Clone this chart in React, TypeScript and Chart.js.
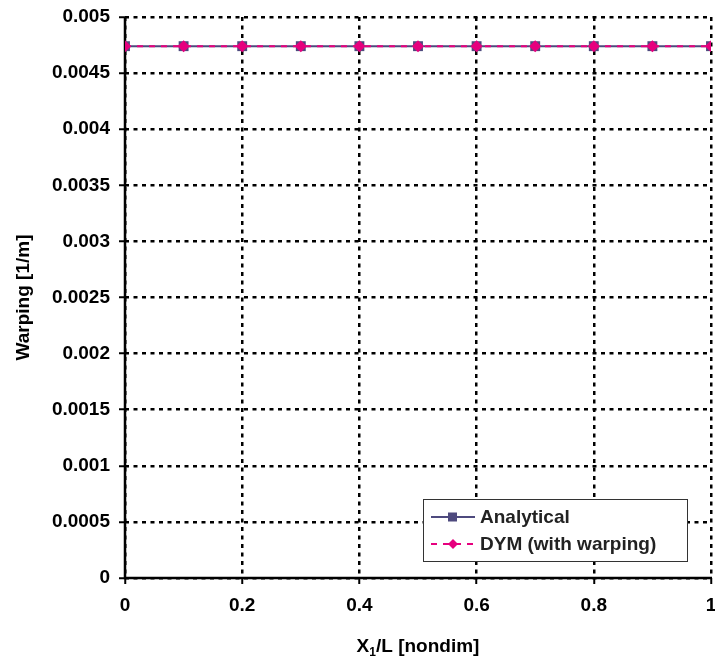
import React, { useEffect, useRef } from "react";
import { Chart, registerables } from "chart.js";

Chart.register(...registerables);

const xValues = [0, 0.1, 0.2, 0.3, 0.4, 0.5, 0.6, 0.7, 0.8, 0.9, 1];
const analytical = [0.00474, 0.00474, 0.00474, 0.00474, 0.00474, 0.00474, 0.00474, 0.00474, 0.00474, 0.00474, 0.00474];
const dym = [0.00474, 0.00474, 0.00474, 0.00474, 0.00474, 0.00474, 0.00474, 0.00474, 0.00474, 0.00474, 0.00474];
const seriesNames = ["Analytical", "DYM (with warping)"];
const yTitle = "Warping [1/m]";
const xTitleMain = "X";
const xTitleSub = "1";
const xTitleRest = "/L [nondim]";

const FONT = "'Liberation Sans', Arial, sans-serif";
const NAVY = "#4e4a7e";
const MAGENTA = "#e6007e";

export default function App() {
  const ref = useRef<HTMLCanvasElement>(null);
  useEffect(() => {
    document.body.style.margin = "0";
    const ctx = ref.current!;
    const axisLines = {
      id: "axisLines",
      beforeDatasetsDraw(chart: any) {
        const c = chart.ctx;
        const a = chart.chartArea;
        c.save();
        c.strokeStyle = "#000";
        c.lineWidth = 2.5;
        c.setLineDash([]);
        c.beginPath();
        c.moveTo(a.left, a.top);
        c.lineTo(a.left, a.bottom);
        c.lineTo(a.right + 1, a.bottom);
        c.stroke();
        c.restore();
      },
    };
    const overlay = {
      id: "overlay",
      afterDraw(chart: any) {
        const c = chart.ctx;
        const a = chart.chartArea;
        c.save();
        c.fillStyle = "#000";
        c.font = `bold 19px ${FONT}`;
        c.textAlign = "center";
        c.textBaseline = "middle";
        c.translate(24, (a.top + a.bottom) / 2);
        c.rotate(-Math.PI / 2);
        c.fillText(yTitle, 0, 0);
        c.restore();
        c.save();
        c.fillStyle = "#000";
        c.textBaseline = "alphabetic";
        c.textAlign = "left";
        const big = `bold 19px ${FONT}`;
        const small = `bold 12px ${FONT}`;
        c.font = big;
        const w1 = c.measureText(xTitleMain).width;
        const w3 = c.measureText(xTitleRest).width;
        c.font = small;
        const w2 = c.measureText(xTitleSub).width;
        const total = w1 + w2 + w3;
        let x = (a.left + a.right) / 2 - total / 2;
        const base = 652;
        c.font = big;
        c.fillText(xTitleMain, x, base);
        x += w1;
        c.font = small;
        c.fillText(xTitleSub, x, base + 4);
        x += w2;
        c.font = big;
        c.fillText(xTitleRest, x, base);
        c.restore();
        c.save();
        const lx = 423, ly = 499, lw = 264, lh = 62;
        c.fillStyle = "#fff";
        c.fillRect(lx, ly, lw, lh);
        c.strokeStyle = "#333";
        c.lineWidth = 1;
        c.strokeRect(lx + 0.5, ly + 0.5, lw, lh);
        const rows = [
          { y: ly + 18, color: NAVY, dash: [] as number[], shape: "square" },
          { y: ly + 45, color: MAGENTA, dash: [6, 6], shape: "diamond" },
        ];
        rows.forEach((r, i) => {
          c.strokeStyle = r.color;
          c.lineWidth = 2;
          c.setLineDash(r.dash);
          c.beginPath();
          c.moveTo(431, r.y);
          c.lineTo(475, r.y);
          c.stroke();
          c.setLineDash([]);
          c.fillStyle = r.color;
          if (r.shape === "square") {
            c.fillRect(448, r.y - 4.5, 9, 9);
          } else {
            c.beginPath();
            c.moveTo(453, r.y - 5);
            c.lineTo(458, r.y);
            c.lineTo(453, r.y + 5);
            c.lineTo(448, r.y);
            c.closePath();
            c.fill();
          }
          c.fillStyle = "#222";
          c.font = `bold 19px ${FONT}`;
          c.textAlign = "left";
          c.textBaseline = "middle";
          c.fillText(seriesNames[i], 480, r.y + 1);
        });
        c.restore();
      },
    };
    const gridOpts = {
      color: "#000",
      lineWidth: 2.5,
      tickLength: 6,
      tickBorderDash: [],
      tickColor: "#000",
      tickWidth: 2,
    };
    const chart = new Chart(ctx, {
      type: "line",
      data: {
        datasets: [
          {
            label: seriesNames[0],
            data: xValues.map((x, i) => ({ x, y: analytical[i] })),
            borderColor: NAVY,
            backgroundColor: NAVY,
            borderWidth: 2,
            pointStyle: "rect",
            pointRadius: 7,
            pointBorderWidth: 0,
            order: 1,
          },
          {
            label: seriesNames[1],
            data: xValues.map((x, i) => ({ x, y: dym[i] })),
            borderColor: MAGENTA,
            backgroundColor: MAGENTA,
            borderWidth: 2,
            borderDash: [6, 6],
            pointStyle: "rectRot",
            pointRadius: 6,
            pointBorderWidth: 0,
            order: 0,
          },
        ],
      },
      options: {
        animation: false,
        responsive: false,
        layout: { autoPadding: false, padding: { top: 17, right: 4, left: 0, bottom: 0 } },
        plugins: { legend: { display: false }, tooltip: { enabled: false } },
        scales: {
          x: {
            type: "linear",
            min: 0,
            max: 1,
            afterFit: (s: any) => {
              s.height = 84;
              s.paddingLeft = 0;
              s.paddingRight = 0;
            },
            ticks: {
              stepSize: 0.2,
              color: "#000",
              padding: 10,
              font: { family: FONT, size: 19, weight: "bold" },
              callback: (v: any) => String(Number(Number(v).toFixed(2))),
            },
            grid: gridOpts,
            border: { display: false, dash: [4, 4.5] },
          },
          y: {
            type: "linear",
            min: 0,
            max: 0.005,
            afterFit: (s: any) => {
              s.width = 125;
              s.paddingTop = 0;
              s.paddingBottom = 0;
            },
            ticks: {
              stepSize: 0.0005,
              color: "#000",
              padding: 9,
              font: { family: FONT, size: 19, weight: "bold" },
              callback: (v: any) => String(Number(Number(v).toFixed(4))),
            },
            grid: gridOpts,
            border: { display: false, dash: [4, 4.5] },
          },
        },
      },
      plugins: [axisLines, overlay],
    });
    return () => chart.destroy();
  }, []);
  return (
    <div style={{ width: 715, height: 662, background: "#fff" }}>
      <canvas ref={ref} width={715} height={662} />
    </div>
  );
}
